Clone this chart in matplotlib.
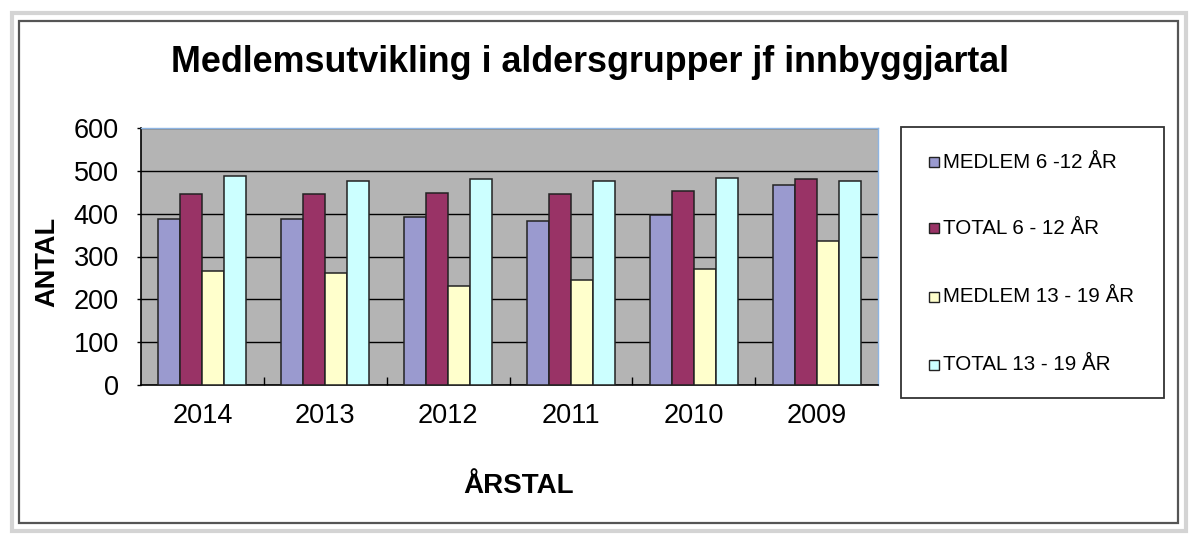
import numpy as np
import matplotlib.pyplot as plt
from matplotlib.patches import Rectangle

plt.rcParams['font.family'] = ['Liberation Sans', 'DejaVu Sans']

# Data
years = ['2014', '2013', '2012', '2011', '2010', '2009']
medlem_6_12 = [387, 387, 393, 384, 396, 467]
total_6_12 = [445, 445, 449, 445, 452, 480]
medlem_13_19 = [266, 261, 231, 244, 270, 337]
total_13_19 = [487, 477, 481, 477, 484, 477]

series_labels = ['MEDLEM 6 -12 ÅR', 'TOTAL 6 - 12 ÅR', 'MEDLEM 13 - 19 ÅR', 'TOTAL 13 - 19 ÅR']
series_values = [medlem_6_12, total_6_12, medlem_13_19, total_13_19]
colors = ['#9A9ACF', '#993366', '#FFFFCC', '#CCFFFF']

W, H = 1192, 536
fig = plt.figure(figsize=(W / 100, H / 100), dpi=100)

# Excel frame + chart border
fig.patches.append(Rectangle((12 / W, 1 - 531 / H), 1174 / W, 518 / H, transform=fig.transFigure,
                             fill=False, edgecolor='#D4D4D4', lw=3, zorder=0))
fig.patches.append(Rectangle((19 / W, 1 - 523 / H), 1159 / W, 502 / H, transform=fig.transFigure,
                             fill=False, edgecolor='#555555', lw=1.6, zorder=1))

# plot area
ax = fig.add_axes([141 / W, 1 - 385 / H, 737 / W, 257 / H])
ax.set_facecolor('#B4B4B4')

x = np.arange(len(years))
bw = 0.179
for i, (vals, col, lab) in enumerate(zip(series_values, colors, series_labels)):
    ax.bar(x + (i - 1.5) * bw, vals, width=bw, color=col, edgecolor='#222222', linewidth=1.1,
           label=lab, zorder=3)

ax.set_xlim(-0.5, len(years) - 0.5)
ax.set_ylim(0, 600)
ax.set_yticks(range(0, 601, 100))
ax.yaxis.grid(True, color='black', linewidth=1.0, zorder=1)
ax.set_axisbelow(True)

ax.set_xticks(x)
ax.set_xticklabels(years)
ax.set_xticks(np.arange(0.5, len(years) - 0.5, 1), minor=True)
ax.tick_params(axis='x', which='major', length=0, pad=13, labelsize=19.5)
ax.tick_params(axis='x', which='minor', direction='in', length=6, width=1, color='black')
ax.tick_params(axis='y', which='major', direction='out', length=3, width=1, pad=13, labelsize=19.5)

for s in ['left', 'bottom']:
    ax.spines[s].set_color('black')
    ax.spines[s].set_linewidth(1.2)
for s in ['top', 'right']:
    ax.spines[s].set_color('#8DB4E2')
    ax.spines[s].set_linewidth(1.0)

# titles
fig.text(590 / W, 1 - 63 / H, 'Medlemsutvikling i aldersgrupper jf innbyggjartal',
         ha='center', va='center', fontsize=25.8, fontweight='bold')
fig.text(47 / W, 1 - 262 / H, 'ANTAL', rotation=90, ha='center', va='center',
         fontsize=19.5, fontweight='bold')
fig.text(519 / W, 1 - 486 / H, 'ÅRSTAL', ha='center', va='center',
         fontsize=20, fontweight='bold')

# legend box
fig.patches.append(Rectangle((901 / W, 1 - 398 / H), 263 / W, 271 / H, transform=fig.transFigure,
                             facecolor='white', edgecolor='#333333', lw=1.3, zorder=2))
row_y = [162, 228, 297, 365]
for lab, col, yy in zip(series_labels, colors, row_y):
    fig.patches.append(Rectangle((929 / W, 1 - (yy + 5) / H), 10 / W, 10 / H, transform=fig.transFigure,
                                 facecolor=col, edgecolor='#222222', lw=1.0, zorder=3))
    fig.text(943 / W, 1 - yy / H, lab, ha='left', va='center', fontsize=14.8, zorder=4)

fig.savefig('out.png', dpi=100)
